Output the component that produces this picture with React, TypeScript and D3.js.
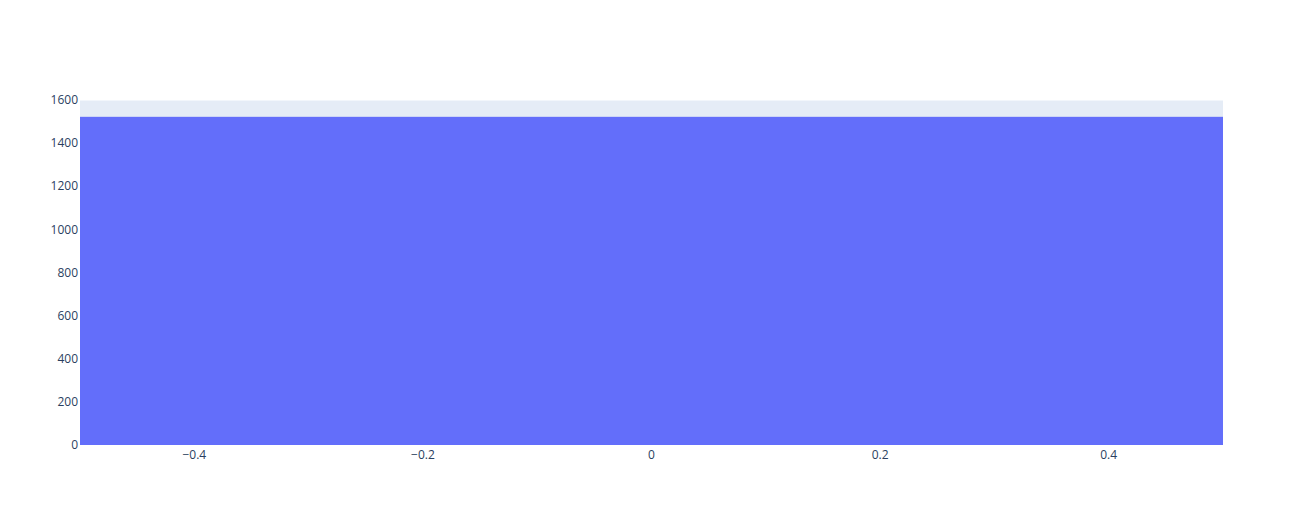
import React from "react";
import * as d3 from "d3";

const xValues = [0];
const barValues = [1522];
const barWidthUnits = [1];
const yTicks = [0, 200, 400, 600, 800, 1000, 1200, 1400, 1600];
const xTicks = [-0.4, -0.2, 0, 0.2, 0.4];

const W = 1303;
const H = 525;
const M = { l: 80, r: 80, t: 100, b: 80 };

export default function App() {
  const x = d3.scaleLinear().domain([-0.5, 0.5]).range([M.l, W - M.r]);
  const y = d3.scaleLinear().domain([0, 1600]).range([H - M.b, M.t]);
  const fmtX = (v: number) => (v < 0 ? "\u2212" + Math.abs(v) : String(v));
  const font = '"Open Sans", verdana, arial, sans-serif';
  return (
    <svg
      width={W}
      height={H}
      style={{ position: "absolute", left: 0, top: 0, background: "#fff" }}
    >
      <rect x={M.l} y={M.t} width={W - M.l - M.r} height={H - M.t - M.b} fill="#E5ECF6" />
      {yTicks.map((t) => (
        <line key={"gy" + t} x1={M.l} x2={W - M.r} y1={y(t)} y2={y(t)} stroke="#fff" strokeWidth={1} />
      ))}
      {xValues.map((v, i) => (
        <rect
          key={"b" + i}
          x={x(v - barWidthUnits[i] / 2)}
          width={x(v + barWidthUnits[i] / 2) - x(v - barWidthUnits[i] / 2)}
          y={y(barValues[i])}
          height={y(0) - y(barValues[i])}
          fill="#636efa"
        />
      ))}
      {yTicks.map((t) => (
        <text
          key={"ty" + t}
          x={M.l - 2}
          y={y(t)}
          dy="0.35em"
          textAnchor="end"
          fontFamily={font}
          fontSize={12}
          fill="#2a3f5f"
        >
          {t}
        </text>
      ))}
      {xTicks.map((t) => (
        <text
          key={"tx" + t}
          x={x(t)}
          y={H - M.b + 14}
          textAnchor="middle"
          fontFamily={font}
          fontSize={12}
          fill="#2a3f5f"
        >
          {fmtX(t)}
        </text>
      ))}
    </svg>
  );
}
